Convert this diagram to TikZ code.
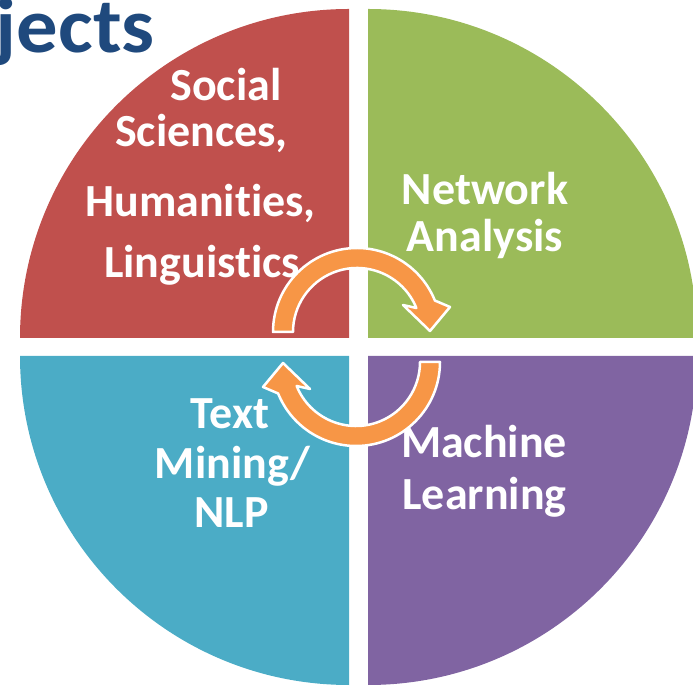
\documentclass[tikz,border=0pt]{standalone}
\usepackage{fontspec}
\setmainfont{Carlito}[Ligatures=NoCommon]

\definecolor{quadred}{HTML}{C0504D}
\definecolor{quadgreen}{HTML}{9BBB59}
\definecolor{quadblue}{HTML}{4BACC6}
\definecolor{quadpurple}{HTML}{8064A2}
\definecolor{turnorange}{HTML}{F79646}
\definecolor{titleblue}{HTML}{1F497D}

\begin{document}
\begin{tikzpicture}[x=1pt, y=1pt,
    word/.style={font=\fontsize{46}{46}\selectfont\bfseries, text=white,
      anchor=base, inner sep=0pt},
    heading/.style={font=\fontsize{78}{78}\selectfont\bfseries, text=titleblue,
      anchor=base east, inner sep=0pt, xscale=1.06},
    turnarrow/.style={fill=turnorange, draw=white, line width=2.5pt, line join=round},
    turn/.pic={
      \draw[turnarrow] (180:64) -- (180:84)
        arc[start angle=180, end angle=22, radius=84]
        -- (93,25) -- (73,1) -- (46,27) -- (22:64)
        arc[start angle=22, end angle=180, radius=64] -- cycle;
    }]
  \useasboundingbox (0,0) rectangle (693,685);
  \clip (0,0) rectangle (693,685);

  % quarters of the disc
  \fill[quadred] (349,347) -- ++(-329,0) arc[start angle=180, end angle=90, radius=329] -- cycle;
  \fill[quadgreen] (368,347) -- ++(0,329) arc[start angle=90, end angle=0, radius=329] -- cycle;
  \fill[quadblue] (349,329) -- ++(0,-329) arc[start angle=270, end angle=180, radius=329] -- cycle;
  \fill[quadpurple] (368,329) -- ++(329,0) arc[start angle=0, end angle=-90, radius=329] -- cycle;

  \node[heading] (title) at (155,632) {jects};

  \node[word] (social) at (226,584) {Social};
  \node[word] (sciences) at (201.5,538) {Sciences,};
  \node[word] (humanities) at (200.5,468) {Humanities,};
  \node[word] (linguistics) at (202,407) {Linguistics};

  \node[word] (network) at (485,480) {Network};
  \node[word] (analysis) at (485,433) {Analysis};

  \node[word] (text) at (230,256) {Text};
  \node[word] (mining) at (232.5,206) {Mining/};
  \node[word] (nlp) at (231.5,157) {NLP};

  \node[word] (machine) at (484,227) {Machine};
  \node[word] (learning) at (484.5,175) {Learning};

  % the two turning arrows
  \pic at (357,353) {turn};
  \pic[rotate=180] at (356,323) {turn};
\end{tikzpicture}
\end{document}
